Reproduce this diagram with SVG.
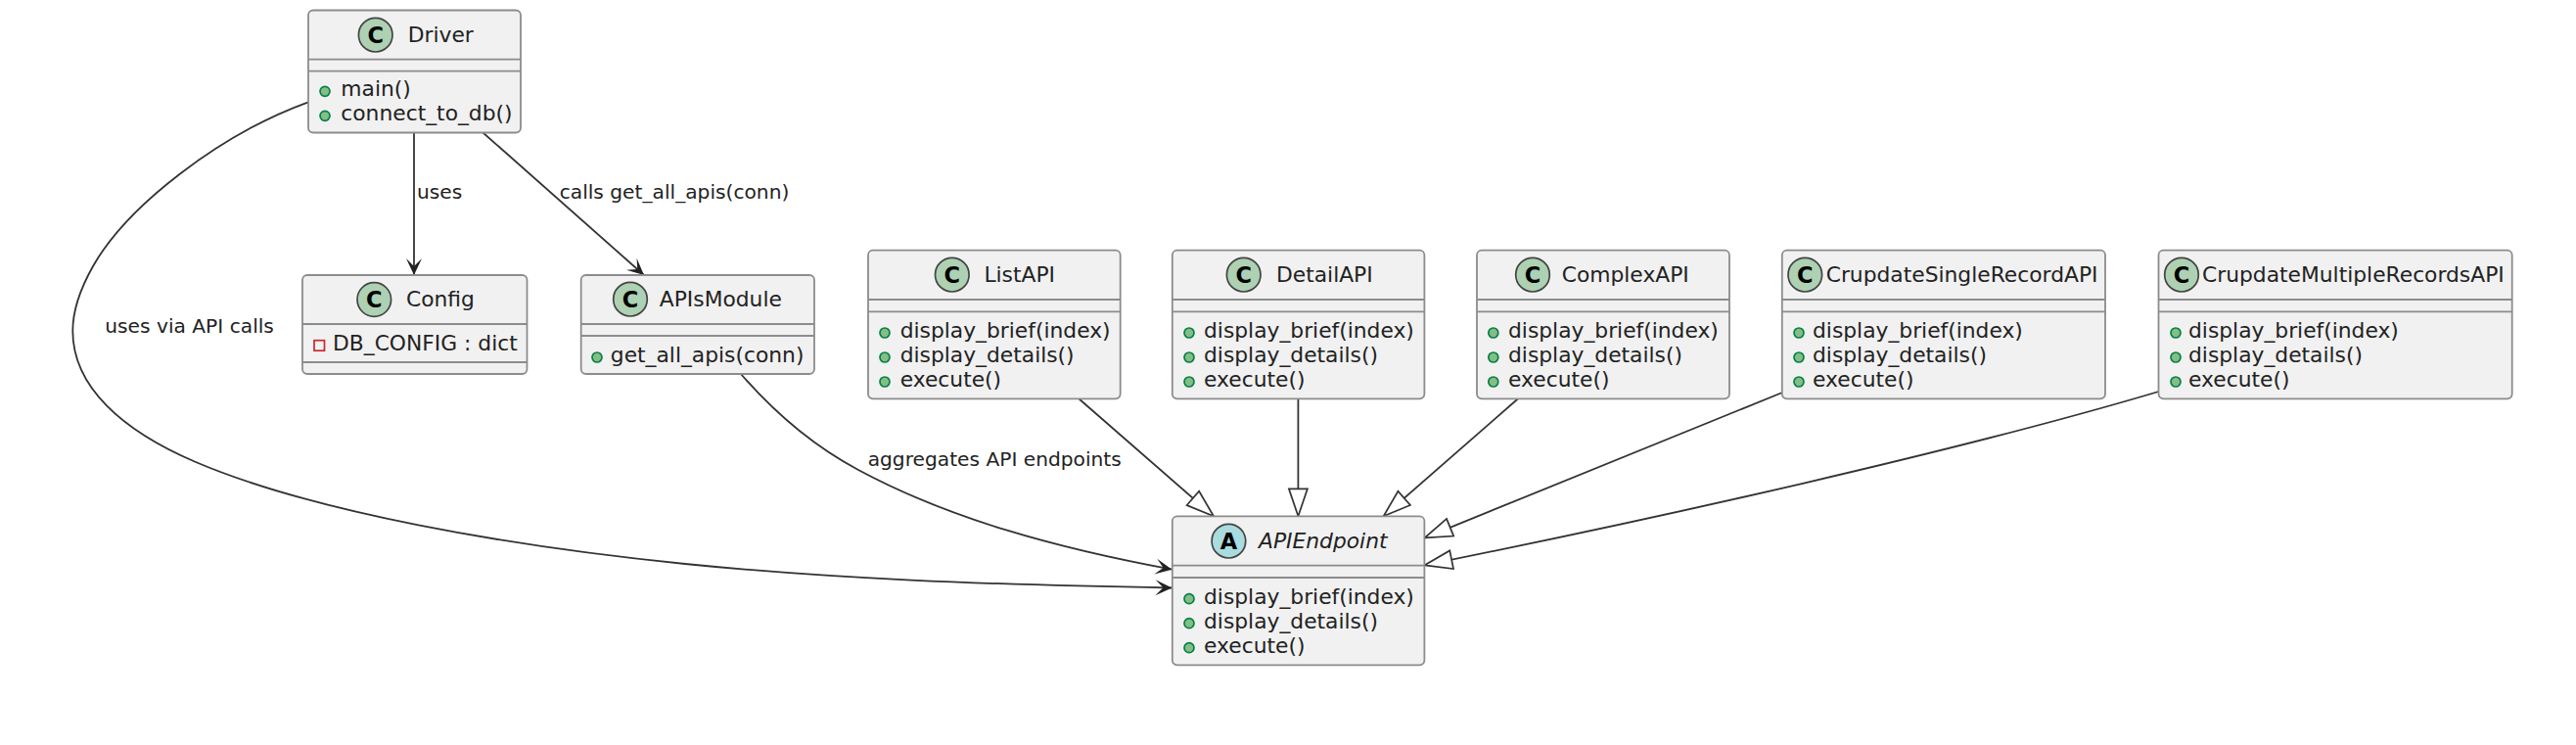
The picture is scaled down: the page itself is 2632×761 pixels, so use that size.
<svg xmlns="http://www.w3.org/2000/svg" width="2632" height="761" viewBox="0 0 2632 761">
<style>
text{font-family:"DejaVu Sans",sans-serif;fill:#222;font-size:21.8px}
.l{font-size:20.2px}
.b{fill:#F1F1F1;stroke:#8c8c8c;stroke-width:1.8}
.s{stroke:#8c8c8c;stroke-width:1.8}
.c{fill:#ADD1B2;stroke:#444;stroke-width:1.7}
.a{fill:#A9DCDF;stroke:#444;stroke-width:1.7}
.g{font-family:"DejaVu Sans",sans-serif;font-weight:bold;font-size:22.5px;fill:#000;text-anchor:middle}
.d{fill:#84BE84;stroke:#038048;stroke-width:1.7}
.e{fill:none;stroke:#333;stroke-width:1.8}
.o{marker-end:url(#open)}
.h{marker-end:url(#hollow)}
</style>
<defs>
<marker id="open" markerUnits="userSpaceOnUse" markerWidth="19" markerHeight="18" refX="17.5" refY="9" orient="auto"><path d="M17.5,9 L0.5,1 L8.5,9 L0.5,17 Z" fill="#222"/></marker>
<marker id="hollow" markerUnits="userSpaceOnUse" markerWidth="32" markerHeight="24" refX="30" refY="12" orient="auto"><path d="M30,12 L2,2.5 L2,21.5 Z" fill="#fff" stroke="#333" stroke-width="1.7"/></marker>
</defs>
<rect width="2632" height="761" fill="#fff"/>
<g id="connectors">
<path class="e o" d="M315,104.3 C225,137 130,210 95,272 C82,295 74.3,318 74.3,338 C74.3,395 125,440 200,472 C320,523 520,558 700,576 C850,591 1000,597 1197.5,600.5"/>
<path class="e o" d="M423,135.5 L423,281"/>
<path class="e o" d="M493.5,135.5 L658,281"/>
<path class="e o" d="M757,382 C790,420 830,455 877,480 C970,530 1080,560 1197.5,581.7"/>
<path class="e h" d="M1102.3,407.3 L1240,527.3"/>
<path class="e h" d="M1326.4,407.3 L1326.4,527.3"/>
<path class="e h" d="M1551,407.3 L1413.6,527.3"/>
<path class="e h" d="M1821,401 L1455.7,549.3"/>
<path class="e h" d="M2205.5,400 C2000,461 1700,528 1455.7,577.3"/>
<text class="l" x="426" y="203.3">uses</text>
<text class="l" x="571.7" y="203.3">calls get_all_apis(conn)</text>
<text class="l" x="107.3" y="340">uses via API calls</text>
<text class="l" x="886.7" y="475.7">aggregates API endpoints</text>
</g>
<g id="Driver">
<rect class="b" x="315" y="10.5" width="217" height="125" rx="5"/>
<line class="s" x1="315" y1="60.7" x2="532" y2="60.7"/><line class="s" x1="315" y1="72.7" x2="532" y2="72.7"/>
<circle class="c" cx="383.7" cy="35.7" r="17.3"/><text class="g" x="383.7" y="43.9">C</text>
<text x="416.7" y="42.5">Driver</text>
<circle class="d" cx="332" cy="93.3" r="5"/><text x="348.3" y="98.3">main()</text>
<circle class="d" cx="332" cy="118.3" r="5"/><text x="348.3" y="123.3">connect_to_db()</text>
</g>
<g id="Config">
<rect class="b" x="309" y="281" width="229.5" height="101" rx="5"/>
<line class="s" x1="309" y1="331" x2="538.5" y2="331"/><line class="s" x1="309" y1="370" x2="538.5" y2="370"/>
<circle class="c" cx="382.3" cy="306" r="17.3"/><text class="g" x="382.3" y="314.2">C</text>
<text x="415" y="313">Config</text>
<rect x="321" y="347.7" width="10.5" height="10.5" fill="none" stroke="#C82930" stroke-width="1.7"/>
<text x="340" y="358.3">DB_CONFIG : dict</text>
</g>
<g id="APIsModule">
<rect class="b" x="593.7" y="281" width="238.3" height="101" rx="5"/>
<line class="s" x1="593.7" y1="331" x2="832" y2="331"/><line class="s" x1="593.7" y1="343" x2="832" y2="343"/>
<circle class="c" cx="644" cy="305.7" r="17.3"/><text class="g" x="644" y="313.9">C</text>
<text x="673.8" y="313">APIsModule</text>
<circle class="d" cx="610" cy="365" r="5"/><text x="623.8" y="370">get_all_apis(conn)</text>
</g>
<g id="ListAPI">
<rect class="b" x="887" y="255.7" width="257.7" height="151.6" rx="5"/>
<line class="s" x1="887" y1="306" x2="1144.7" y2="306"/><line class="s" x1="887" y1="318.3" x2="1144.7" y2="318.3"/>
<circle class="c" cx="972.8" cy="280.7" r="17.3"/><text class="g" x="972.8" y="288.9">C</text>
<text x="1005.4" y="288">ListAPI</text>
<circle class="d" cx="904" cy="340" r="5"/><text x="919.7" y="345">display_brief(index)</text>
<circle class="d" cx="904" cy="365" r="5"/><text x="919.7" y="370">display_details()</text>
<circle class="d" cx="904" cy="390" r="5"/><text x="919.7" y="395">execute()</text>
</g>
<g id="DetailAPI">
<rect class="b" x="1197.8" y="255.7" width="257.6" height="151.6" rx="5"/>
<line class="s" x1="1197.8" y1="306" x2="1455.4" y2="306"/><line class="s" x1="1197.8" y1="318.3" x2="1455.4" y2="318.3"/>
<circle class="c" cx="1270.7" cy="280.7" r="17.3"/><text class="g" x="1270.7" y="288.9">C</text>
<text x="1304" y="288">DetailAPI</text>
<circle class="d" cx="1215" cy="340" r="5"/><text x="1230" y="345">display_brief(index)</text>
<circle class="d" cx="1215" cy="365" r="5"/><text x="1230" y="370">display_details()</text>
<circle class="d" cx="1215" cy="390" r="5"/><text x="1230" y="395">execute()</text>
</g>
<g id="ComplexAPI">
<rect class="b" x="1509" y="255.7" width="258" height="151.6" rx="5"/>
<line class="s" x1="1509" y1="306" x2="1767" y2="306"/><line class="s" x1="1509" y1="318.3" x2="1767" y2="318.3"/>
<circle class="c" cx="1566" cy="280.7" r="17.3"/><text class="g" x="1566" y="288.9">C</text>
<text x="1595.7" y="288">ComplexAPI</text>
<circle class="d" cx="1525.8" cy="340" r="5"/><text x="1541" y="345">display_brief(index)</text>
<circle class="d" cx="1525.8" cy="365" r="5"/><text x="1541" y="370">display_details()</text>
<circle class="d" cx="1525.8" cy="390" r="5"/><text x="1541" y="395">execute()</text>
</g>
<g id="CrupdateSingleRecordAPI">
<rect class="b" x="1820.8" y="255.7" width="330.2" height="151.6" rx="5"/>
<line class="s" x1="1820.8" y1="306" x2="2151" y2="306"/><line class="s" x1="1820.8" y1="318.3" x2="2151" y2="318.3"/>
<circle class="c" cx="1844.3" cy="280.7" r="17.3"/><text class="g" x="1844.3" y="288.9">C</text>
<text x="1865.7" y="288">CrupdateSingleRecordAPI</text>
<circle class="d" cx="1838" cy="340" r="5"/><text x="1852" y="345">display_brief(index)</text>
<circle class="d" cx="1838" cy="365" r="5"/><text x="1852" y="370">display_details()</text>
<circle class="d" cx="1838" cy="390" r="5"/><text x="1852" y="395">execute()</text>
</g>
<g id="CrupdateMultipleRecordsAPI">
<rect class="b" x="2205.5" y="255.7" width="361.2" height="151.6" rx="5"/>
<line class="s" x1="2205.5" y1="306" x2="2566.7" y2="306"/><line class="s" x1="2205.5" y1="318.3" x2="2566.7" y2="318.3"/>
<circle class="c" cx="2229" cy="280.7" r="17.3"/><text class="g" x="2229" y="288.9">C</text>
<text x="2250" y="288" font-size="22">CrupdateMultipleRecordsAPI</text>
<circle class="d" cx="2223" cy="340" r="5"/><text x="2236" y="345">display_brief(index)</text>
<circle class="d" cx="2223" cy="365" r="5"/><text x="2236" y="370">display_details()</text>
<circle class="d" cx="2223" cy="390" r="5"/><text x="2236" y="395">execute()</text>
</g>
<g id="APIEndpoint">
<rect class="b" x="1197.8" y="527.3" width="257.6" height="152" rx="5"/>
<line class="s" x1="1197.8" y1="577.7" x2="1455.4" y2="577.7"/><line class="s" x1="1197.8" y1="590" x2="1455.4" y2="590"/>
<circle class="a" cx="1255.4" cy="552.7" r="17.3"/><text class="g" x="1255.4" y="560.9">A</text>
<text x="1286" y="560" font-style="italic">APIEndpoint</text>
<circle class="d" cx="1215" cy="611.7" r="5"/><text x="1230" y="616.7">display_brief(index)</text>
<circle class="d" cx="1215" cy="636.7" r="5"/><text x="1230" y="641.7">display_details()</text>
<circle class="d" cx="1215" cy="661.7" r="5"/><text x="1230" y="666.7">execute()</text>
</g>
</svg>
